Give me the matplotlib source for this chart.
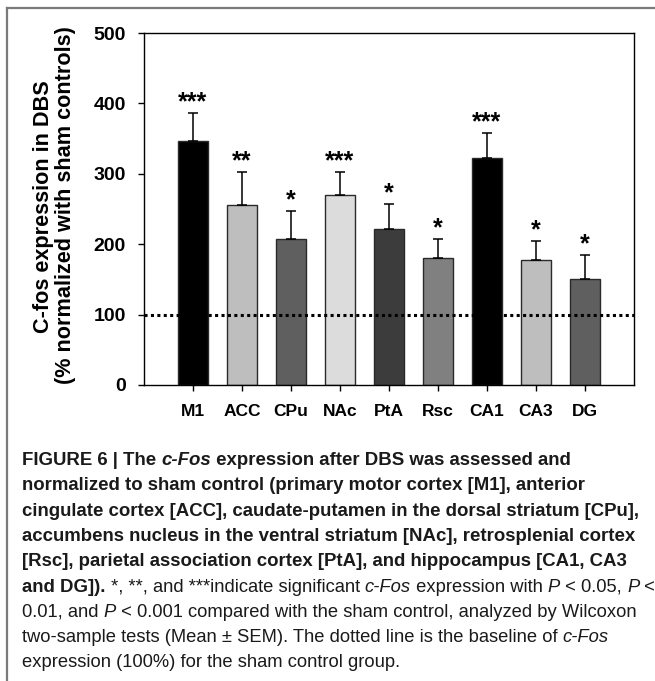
import matplotlib
matplotlib.use("Agg")
import matplotlib.pyplot as plt
from matplotlib import font_manager
import numpy as np

regions = ["M1", "ACC", "CPu", "NAc", "PtA", "Rsc", "CA1", "CA3", "DG"]
means = [347, 256, 207, 270, 221, 181, 322, 177, 150]
sems = [40, 47, 40, 33, 36, 26, 36, 28, 35]
stars = ["***", "**", "*", "***", "*", "*", "***", "*", "*"]
greys = ["#000000", "#bebebe", "#5f5f5f", "#dcdcdc", "#3c3c3c",
         "#808080", "#000000", "#bebebe", "#5f5f5f"]
yticks = [0, 100, 200, 300, 400, 500]
baseline = 100

ylabel_lines = ["C-fos expression in DBS", "(% normalized with sham controls)"]

# caption: list of lines, each a list of (text, weight, style)
B, R = "bold", "normal"
caption = [
    [("FIGURE 6 | The ", B, "normal"), ("c-Fos", B, "italic"),
     (" expression after DBS was assessed and", B, "normal")],
    [("normalized to sham control (primary motor cortex [M1], anterior", B, "normal")],
    [("cingulate cortex [ACC], caudate-putamen in the dorsal striatum [CPu],", B, "normal")],
    [("accumbens nucleus in the ventral striatum [NAc], retrosplenial cortex", B, "normal")],
    [("[Rsc], parietal association cortex [PtA], and hippocampus [CA1, CA3", B, "normal")],
    [("and DG]).", B, "normal"), (" *, **, and ***indicate significant ", R, "normal"),
     ("c-Fos", R, "italic"), (" expression with ", R, "normal"), ("P", R, "italic"),
     (" < 0.05, ", R, "normal"), ("P", R, "italic"), (" <", R, "normal")],
    [("0.01, and ", R, "normal"), ("P", R, "italic"),
     (" < 0.001 compared with the sham control, analyzed by Wilcoxon", R, "normal")],
    [("two-sample tests (Mean \u00b1 SEM). The dotted line is the baseline of ", R, "normal"),
     ("c-Fos", R, "italic")],
    [("expression (100%) for the sham control group.", R, "normal")],
]


def pick_font(names):
    for n in names:
        try:
            font_manager.findfont(font_manager.FontProperties(family=n),
                                  fallback_to_default=False)
            return n
        except ValueError:
            pass
    return "DejaVu Sans"


chart_font = pick_font(["Liberation Sans", "Arial"])
cap_font = pick_font(["Liberation Sans Narrow", "Liberation Sans"])
plt.rcParams["font.family"] = chart_font

W, H = 655, 681
fig = plt.figure(figsize=(W / 100, H / 100), dpi=100)
renderer = fig.canvas.get_renderer()


def fx(px):
    return px / W


def fy(py):
    return 1 - py / H


# axes box in pixels: left 144, right 634, top 33, bottom 385
ax = fig.add_axes([fx(144), fy(385), (634 - 144) / W, (385 - 33) / H])
x = np.arange(1, len(regions) + 1)
ax.bar(x, means, width=0.62, color=greys, edgecolor="#2a2a2a", linewidth=1.0, zorder=2)
ax.errorbar(x, means, yerr=[np.zeros(len(sems)), sems], fmt="none", ecolor="black",
            elinewidth=1.1, capsize=3.5, capthick=1.1, zorder=3)
ax.axhline(baseline, color="black", lw=2.2, linestyle=(0, (1, 1.1)), zorder=4)
for xi, m, s, st in zip(x, means, sems, stars):
    ax.text(xi, m + s + 5, st, ha="center", va="baseline", fontsize=18,
            fontweight="bold", zorder=5)

ax.set_xlim(0, 10)
ax.set_ylim(0, 500)
ax.set_yticks(yticks)
ax.set_xticks(x)
ax.set_xticklabels(regions)
for lab in ax.get_xticklabels():
    lab.set_fontweight("bold")
    lab.set_fontsize(12.5)
for lab in ax.get_yticklabels():
    lab.set_fontweight("bold")
    lab.set_fontsize(14)
ax.tick_params(axis="both", direction="out", length=4, width=1, color="black")
ax.tick_params(axis="x", pad=10)
ax.tick_params(axis="y", pad=9)
for sp in ax.spines.values():
    sp.set_linewidth(1.0)
    sp.set_color("black")

fig.text(fx(44), fy(207), ylabel_lines[0], rotation=90, ha="center", va="center",
         fontsize=15.6, fontweight="bold")
fig.text(fx(66), fy(205), ylabel_lines[1], rotation=90, ha="center", va="center",
         fontsize=15.6, fontweight="bold")

# page frame lines
fig.add_artist(plt.Line2D([fx(7), fx(7)], [fy(8), fy(681)], color="#7a7a7a", lw=1.6))
fig.add_artist(plt.Line2D([fx(7), fx(655)], [fy(8), fy(8)], color="#7a7a7a", lw=1.6))


def seg_width(s, size, weight, style):
    t = fig.text(0, 0, "x" + s + "x", fontsize=size, fontweight=weight,
                 fontstyle=style, family=cap_font)
    w1 = t.get_window_extent(renderer).width
    t.set_text("xx")
    w0 = t.get_window_extent(renderer).width
    t.remove()
    return w1 - w0


def line_width(line, sb, sr):
    return sum(seg_width(s, sb if w == B else sr, w, st) for s, w, st in line)


# fit bold size to line 3 and regular size to line 7
size_b = 11.0 * 621 / line_width(caption[2], 11.0, 11.0)
size_r = 11.0 * 612 / line_width(caption[6], 11.0, 11.0)

base_y = 465
for i, line in enumerate(caption):
    xp = 22
    yp = base_y + i * 25.3
    for s, w, st in line:
        size = size_b if w == B else size_r
        fig.text(fx(xp), fy(yp), s, fontsize=size, fontweight=w, fontstyle=st,
                 family=cap_font, ha="left", va="baseline", color="#1a1a1a")
        xp += seg_width(s, size, w, st)

fig.savefig("out.png", dpi=100)
